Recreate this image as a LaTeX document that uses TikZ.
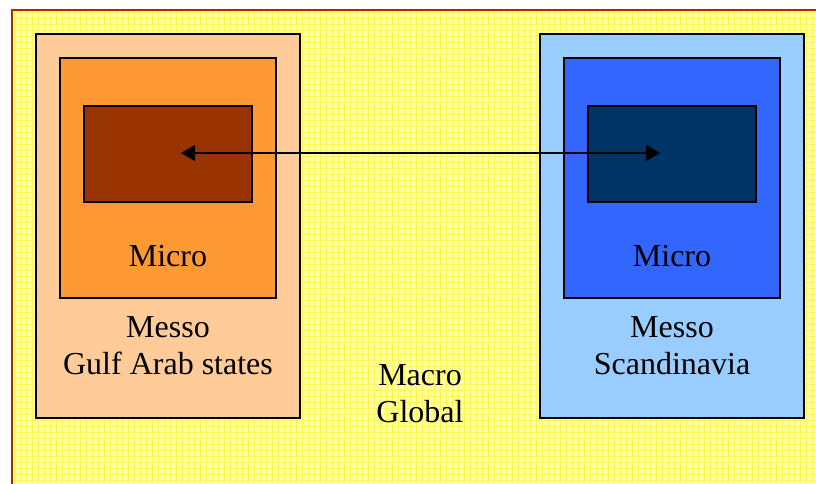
\documentclass[tikz,border=0pt]{standalone}
\usepackage{fontspec}
\setmainfont{Liberation Serif}
\usetikzlibrary{arrows.meta}
\definecolor{frame}{HTML}{993300}
\definecolor{paper}{HTML}{FFFFA8}
\definecolor{mesh}{HTML}{FFF55A}
\definecolor{gulfout}{HTML}{FFCC99}
\definecolor{gulfmid}{HTML}{FF9933}
\definecolor{gulfin}{HTML}{993300}
\definecolor{scandout}{HTML}{99CCFF}
\definecolor{scandmid}{HTML}{3366FF}
\definecolor{scandin}{HTML}{003366}

\begin{document}
\begin{tikzpicture}[x=0.75pt, y=-0.75pt,
        region/.style={draw=black, line width=1.5pt, inner sep=0pt},
        label/.style={font=\fontsize{24}{27.75}\selectfont, align=center, inner sep=0pt}]
        \useasboundingbox (0, 0) rectangle (816, 483);
        \clip (0, 0) rectangle (816, 483);
        % global frame
        \fill[white] (0, 0) rectangle (816, 483);
        \fill[paper] (12, 10) rectangle (830, 500);
        \foreach \x in {14, 20, ..., 816} {
                \draw[mesh, line width=0.35pt] (\x, 10) -- (\x, 483);
        }
        \foreach \y in {12, 18, ..., 483} {
                \draw[mesh, line width=0.35pt] (12, \y) -- (816, \y);
        }
        \draw[frame, line width=1.8pt] (12, 500) -- (12, 10) -- (830, 10);

        % Gulf Arab states
        \draw[region, fill=gulfout] (36, 34) rectangle (300, 418);
        \draw[region, fill=gulfmid] (60, 58) rectangle (276, 298);
        \draw[region, fill=gulfin] (84, 106) rectangle (252, 202);
        \node[label] (gulfmicro) at (168, 256) {Micro};
        \node[label] (gulfmesso) at (168, 346) {Messo\\Gulf Arab states};

        % Scandinavia
        \draw[region, fill=scandout] (540, 34) rectangle (804, 418);
        \draw[region, fill=scandmid] (564, 58) rectangle (780, 298);
        \draw[region, fill=scandin] (588, 106) rectangle (756, 202);
        \node[label] (scandmicro) at (672, 256) {Micro};
        \node[label] (scandmesso) at (672, 346) {Messo\\Scandinavia};

        \node[label] (macro) at (420, 394) {Macro\\Global};

        % link between the two micro levels
        \coordinate (gulfend) at (181, 153);
        \coordinate (scandend) at (660, 153);
        \draw[{Triangle[length=10.5pt, width=12pt]}-{Triangle[length=10.5pt, width=12pt]}, line width=0.9pt] (gulfend) -- (scandend);
\end{tikzpicture}
\end{document}
